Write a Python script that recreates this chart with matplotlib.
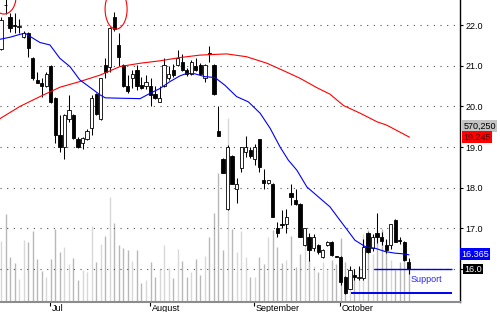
import matplotlib
matplotlib.use("Agg")
import matplotlib.pyplot as plt
import matplotlib.transforms as mtransforms
from matplotlib.patches import Ellipse
import numpy as np

plt.rcParams['font.family'] = ['Liberation Sans', 'DejaVu Sans']

# daily bars, Jul .. Oct  (open, high, low, close)
opens = [21.41, 22.50, 22.20, 22.00, 21.95, 21.70, 21.80, 21.20, 20.66, 20.58,
         20.50, 21.00, 20.20, 19.30, 19.00, 19.68, 19.79, 19.19, 19.09, 19.19,
         19.47, 20.30, 19.68, 21.02, 20.97, 22.20, 21.51, 21.02, 20.50, 20.69,
         20.90, 20.52, 20.50, 20.50, 20.30, 20.11, 20.50, 20.69, 20.90, 21.02,
         21.10, 20.90, 20.80, 20.99, 21.02, 20.69, 21.30, 21.02, 19.39, 18.70,
         17.48, 18.78, 17.98, 18.48, 18.88, 18.93, 18.70, 19.19, 18.19, 18.11,
         18.09, 17.00, 17.10, 17.11, 17.88, 17.71, 17.60, 16.59, 16.79, 16.51,
         16.59, 16.30, 16.59, 16.67, 16.32, 16.30, 15.81, 15.52, 15.85, 15.78,
         15.77, 16.88, 16.51, 16.88, 16.78, 16.59, 16.59, 17.20, 16.72, 16.67,
         16.18]
highs = [22.20, 22.65, 22.29, 22.30, 22.16, 21.85, 21.82, 21.22, 20.85, 20.69,
         20.85, 21.02, 20.22, 19.78, 19.80, 20.28, 19.80, 19.25, 19.25, 19.45,
         20.28, 20.33, 20.70, 21.18, 21.95, 22.32, 21.80, 21.04, 20.77, 20.90,
         21.02, 20.72, 20.77, 20.69, 20.50, 20.50, 21.18, 21.00, 21.05, 21.38,
         21.28, 20.94, 21.15, 21.20, 21.06, 21.04, 21.48, 21.03, 20.00, 18.74,
         19.05, 18.80, 18.23, 19.00, 19.27, 19.00, 19.08, 19.20, 18.45, 18.20,
         18.12, 17.16, 17.45, 17.48, 18.10, 17.96, 17.62, 17.02, 16.88, 16.85,
         16.62, 16.50, 16.70, 16.70, 16.33, 16.32, 15.83, 16.08, 16.00, 16.08,
         16.75, 16.90, 16.85, 17.37, 16.90, 16.75, 17.12, 17.22, 16.80, 16.70,
         16.28]
lows = [21.38, 22.28, 21.84, 21.80, 21.80, 21.67, 21.22, 20.66, 20.58, 20.24,
        20.48, 20.08, 19.09, 18.88, 18.70, 19.62, 19.20, 18.97, 18.95, 19.17,
        19.30, 19.79, 19.66, 20.69, 20.85, 21.85, 21.00, 20.48, 20.32, 20.44,
        20.40, 20.42, 20.42, 20.00, 20.18, 20.10, 20.48, 20.64, 20.72, 21.00,
        20.88, 20.75, 20.76, 20.86, 20.77, 20.61, 21.10, 20.29, 19.27, 18.35,
        17.45, 18.08, 17.62, 18.39, 18.76, 18.72, 18.56, 18.39, 17.98, 18.09,
        17.27, 16.79, 17.00, 16.89, 17.57, 17.57, 16.78, 16.57, 16.20, 16.45,
        16.37, 16.28, 16.56, 16.33, 16.29, 15.62, 15.38, 15.50, 15.72, 15.73,
        15.73, 16.40, 16.45, 16.63, 16.60, 16.40, 16.50, 16.66, 16.62, 16.20,
        15.88]
closes = [22.12, 22.48, 21.92, 21.97, 21.95, 21.81, 21.43, 20.69, 20.58, 20.50,
          20.80, 20.10, 19.30, 19.00, 19.78, 19.91, 19.21, 19.00, 19.21, 19.39,
          20.20, 19.81, 20.69, 20.85, 21.92, 21.89, 21.22, 20.50, 20.38, 20.80,
          20.50, 20.44, 20.61, 20.28, 20.20, 20.20, 21.02, 20.80, 20.77, 21.20,
          20.90, 20.80, 21.10, 20.90, 20.80, 21.02, 21.28, 20.30, 19.28, 18.37,
          19.00, 18.10, 18.10, 18.99, 18.99, 18.78, 19.00, 18.52, 18.11, 18.19,
          17.29, 16.89, 17.09, 17.29, 17.78, 17.61, 16.79, 17.00, 16.47, 16.79,
          16.43, 16.48, 16.67, 16.34, 16.30, 15.67, 15.40, 15.98, 15.80, 15.80,
          16.55, 16.42, 16.78, 16.78, 16.70, 16.47, 17.10, 16.67, 16.70, 16.22,
          16.00]
# volume, thousands of shares
volume = [610, 880, 450, 390, 230, 620, 600, 710, 430, 310,
          250, 430, 730, 500, 550, 380, 440, 220, 320, 300,
          760, 400, 580, 660, 1050, 790, 570, 540, 520, 410,
          520, 190, 220, 400, 250, 330, 570, 340, 240, 530,
          410, 250, 300, 430, 270, 460, 650, 890, 1290, 520,
          1840, 730, 500, 710, 450, 250, 250, 450, 380, 650,
          720, 550, 390, 420, 660, 350, 480, 550, 420, 360,
          300, 400, 320, 420, 380, 640, 400, 350, 320, 330,
          680, 720, 480, 720, 730, 620, 420, 320, 400, 450,
          430]

# moving averages (bar index, price)
fast_ma_x = [-0.2, 2, 4.2, 5.3, 6.4, 8.6, 10.8, 13, 15.2, 17.4, 19.6, 21.9, 23,
             26.3, 30.7, 32.9, 35.1, 37.3, 39.5, 41, 42.8, 45, 47.2, 49.4, 52,
             54.6, 57.2, 59.4, 61.6, 63.4, 65.3, 67.5, 70.4, 72.6, 74.8, 76.7,
             78.1, 80.4, 82.6, 84.8, 87, 89.2, 90]
fast_ma_y = [21.65, 21.70, 21.77, 21.80, 21.72, 21.57, 21.51, 21.18, 20.98, 20.65,
             20.47, 20.28, 20.21, 20.20, 20.19, 20.32, 20.44, 20.61, 20.75, 20.81,
             20.80, 20.73, 20.71, 20.52, 20.24, 20.11, 19.83, 19.46, 19.00, 18.68,
             18.43, 18.02, 17.74, 17.53, 17.20, 16.92, 16.71, 16.55, 16.51, 16.43,
             16.39, 16.37, 16.35]
slow_ma_x = [-0.2, 4.2, 8.6, 13, 17.4, 21.9, 26.3, 30.7, 35.1, 39.5, 43.9, 49.8,
             54.2, 58.7, 62.3, 66, 69.7, 72.6, 75.6, 79.3, 83, 85.1, 90.1]
slow_ma_y = [19.70, 20.00, 20.24, 20.47, 20.61, 20.77, 20.98, 21.06, 21.12, 21.20,
             21.26, 21.29, 21.22, 21.06, 20.88, 20.69, 20.46, 20.30, 20.02, 19.83,
             19.62, 19.54, 19.245]

months = ['Jul', 'August', 'September', 'October']
month_start = [11, 33, 56, 75]
price_ticks = [16, 17, 18, 19, 20, 21, 22]

support_levels = [16.0, 15.42]
support_from = [82.3, 77.3]

last_volume = '570,250'
slow_last = 19.245
fast_last = 16.365
last_close = 16.0

idx = np.arange(len(closes))
o = np.array(opens)
c = np.array(closes)
up = c >= o

fig = plt.figure(figsize=(5, 3.12), dpi=100)
rect = [0, 10 / 312, 460 / 500, 302 / 312]
xlim = (-0.22, 101.3)

# volume underneath
axv = fig.add_axes(rect)
axv.set_xlim(*xlim)
axv.set_ylim(0, 3020)
vcol = np.where(up, '#d8d8d8', '#b8b8b8')
axv.vlines(idx, 0, volume, colors=vcol, lw=1.0)
axv.axis('off')

ax = fig.add_axes(rect)
ax.set_facecolor('none')
ax.set_xlim(*xlim)
ax.set_ylim(15.19, 22.615)

for lv in price_ticks:
    ax.axhline(lv, color='#505050', lw=0.8, ls=(0, (1, 5)), zorder=1)

ax.vlines(idx, lows, highs, color='black', lw=0.75, zorder=3)
body_h = np.maximum(np.abs(c - o), 0.02)
ax.bar(idx, body_h, bottom=np.minimum(o, c), width=0.72,
       color=np.where(up, 'white', 'black'), edgecolor='black', lw=0.6, zorder=4)

ax.plot(slow_ma_x, slow_ma_y, color='#ff0000', lw=0.8, zorder=5)
ax.plot(fast_ma_x, fast_ma_y, color='#0000ff', lw=0.8, zorder=5)

# highlighted tops
ax.add_patch(Ellipse((0.66, 22.69), 5.3, 0.84, fill=False, ec='#ff0000', lw=0.8, zorder=6))
ax.add_patch(Ellipse((25.4, 22.39), 4.86, 0.98, fill=False, ec='#ff0000', lw=0.8, zorder=6))

# support lines
for lv, x0, w in zip(support_levels, support_from, [1.0, 1.4]):
    ax.hlines(lv, x0, 99.5, color='#0000ee', lw=w, zorder=6)
ax.text(90.3, 15.74, 'Support', color='#2828ee', fontsize=6.5, va='center', ha='left', zorder=7)

# axes styling
for s in ['left', 'top']:
    ax.spines[s].set_visible(False)
ax.spines['right'].set_color('black')
ax.spines['right'].set_linewidth(1.0)
ax.spines['bottom'].set_color('#8c8c8c')
ax.spines['bottom'].set_linewidth(1.5)

ax.yaxis.tick_right()
ax.set_yticks(price_ticks)
# the last close flag takes the place of the 16.0 label
ax.set_yticklabels(['' if v == last_close else f'{v:.1f}' for v in price_ticks])
ax.tick_params(axis='y', length=2, pad=2, labelsize=6.5, colors='black')

ax.set_xticks([m - 0.2 for m in month_start])
ax.set_xticklabels([])
ax.tick_params(axis='x', length=3, width=0.8, color='black', direction='out')
for m, lab in zip(month_start, months):
    ax.annotate(lab, xy=(m, 0), xycoords=('data', 'axes fraction'),
                xytext=(0.8, -1.2), textcoords='offset points',
                ha='left', va='top', fontsize=6.5)

# value flags on the right
tr = mtransforms.blended_transform_factory(ax.transAxes, ax.transData)
ax.text(1.007, 0.583, last_volume, transform=ax.transAxes, fontsize=6.5, va='center',
        ha='left', color='black',
        bbox=dict(boxstyle='square,pad=0.12', fc='#c4c4c4', ec='none'))
ax.text(1.007, slow_last, f'{slow_last:.3f}', transform=tr, fontsize=6.5, va='center',
        ha='left', color='#4a0000',
        bbox=dict(boxstyle='square,pad=0.12', fc='#ff0000', ec='none'))
ax.text(1.003, fast_last, f'{fast_last:.3f}', transform=tr, fontsize=6.5, va='center',
        ha='left', color='white',
        bbox=dict(boxstyle='square,pad=0.15', fc='#0000ff', ec='none'))
ax.text(1.009, last_close, f'{last_close:.1f}', transform=tr, fontsize=6.5, va='center',
        ha='left', color='white',
        bbox=dict(boxstyle='square,pad=0.1', fc='black', ec='none'))

fig.savefig('out.png', dpi=100)
